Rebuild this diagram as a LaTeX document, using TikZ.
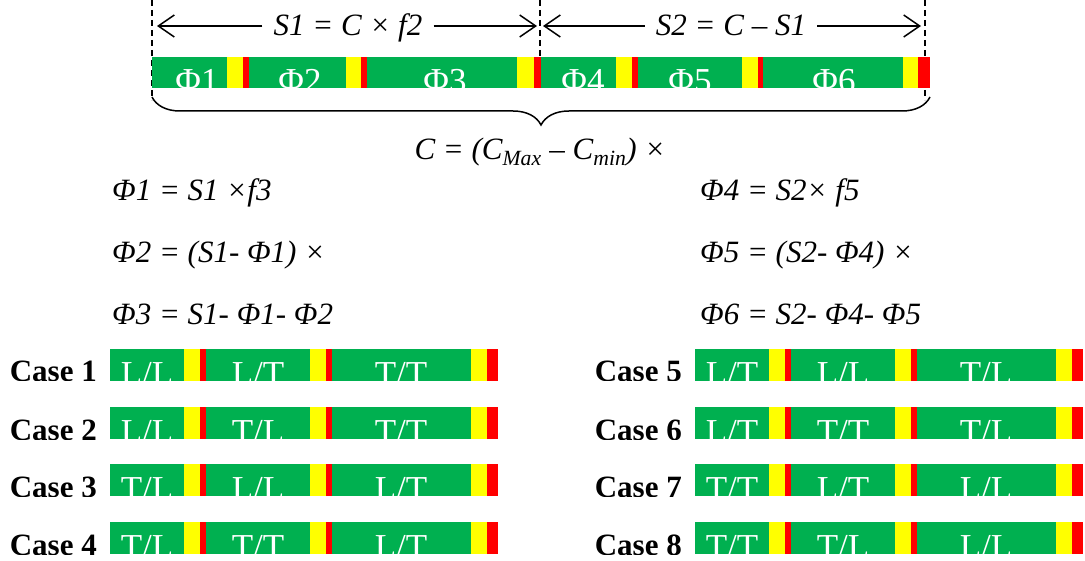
\documentclass[tikz,border=0pt]{standalone}
\usepackage{fontspec}
\setmainfont{Liberation Serif}
\usetikzlibrary{arrows.meta,decorations.pathreplacing}

\definecolor{phgreen}{HTML}{00B050}
\definecolor{phyellow}{HTML}{FFFF00}
\definecolor{phred}{HTML}{FF0000}

\tikzset{
  eqn/.style={anchor=base west, inner sep=0pt, font=\fontsize{31}{35}\selectfont\itshape},
  phlabel/.style={anchor=base, inner sep=0pt, text=white, font=\fontsize{35}{38}\selectfont},
  caselabel/.style={anchor=base east, inner sep=0pt, font=\fontsize{31}{35}\selectfont\bfseries},
  span/.style={line width=1.5pt, -{Straight Barb[length=16pt,width=22pt,line width=1.5pt]}},
  guide/.style={line width=1.2pt, dash pattern=on 6pt off 4pt},
  cbrace/.style={decorate, decoration={brace, amplitude=28pt}, line width=1.5pt}
}

% one signal cycle of a case row: green / yellow / red per phase
\newcommand{\casebar}[2]{%
  \foreach \a/\b/\c/\d in {110/184/200/206, 206/310/326/332, 332/471/487/498}{
    \fill[phgreen]  (\a+#1,#2) rectangle (\b+#1,#2+32);
    \fill[phyellow] (\b+#1,#2) rectangle (\c+#1,#2+32);
    \fill[phred]    (\c+#1,#2) rectangle (\d+#1,#2+32);
  }}

\begin{document}
\begin{tikzpicture}[x=1pt, y=-1pt]
  \useasboundingbox (0,0) rectangle (1085,561);

  % guide lines of the two sub-cycles
  \draw[guide] (152,0) -- (152,100);
  \draw[guide] (540,0) -- (540,57);
  \draw[guide] (925,0) -- (925,100);

  % full cycle bar
  \foreach \a/\b/\c/\d in {152/227/243/249, 249/346/361/367, 367/517/534/541,
                           541/616/632/638, 638/742/758/763, 763/903/918/930}{
    \fill[phgreen]  (\a,57) rectangle (\b,88);
    \fill[phyellow] (\b,57) rectangle (\c,88);
    \fill[phred]    (\c,57) rectangle (\d,88);
  }
  \foreach \n/\xc in {1/197, 2/300, 3/445, 4/583, 5/690, 6/834}
    \node[phlabel] (ph\n) at (\xc,93) {Φ\n};

  % sub-cycle lengths
  \node[eqn, anchor=base, inner xsep=11pt] (s1) at (348,36) {S1 = C × f2};
  \node[eqn, anchor=base, inner xsep=11pt] (s2) at (731,36) {S2 = C – S1};
  \coordinate (s1l) at (157,26);
  \coordinate (s1r) at (537,26);
  \coordinate (s2l) at (543,26);
  \coordinate (s2r) at (921,26);
  \draw[span] (s1.west |- s1l) -- (s1l);
  \draw[span] (s1.east |- s1r) -- (s1r);
  \draw[span] (s2.west |- s2l) -- (s2l);
  \draw[span] (s2.east |- s2r) -- (s2r);

  % cycle length
  \draw[cbrace] (930,97) -- (152,97);
  \node[eqn, anchor=base] (cyc) at (540,160)
    {C = (C\textsubscript{Max} – C\textsubscript{min}) ×};

  % phase lengths
  \node[eqn] (phi1) at (112,201) {Φ1 = S1 ×f3};
  \node[eqn] (phi2) at (112,263) {Φ2 = (S1- Φ1) ×};
  \node[eqn] (phi3) at (112,325) {Φ3 = S1- Φ1- Φ2};
  \node[eqn] (phi4) at (700,201) {Φ4 = S2× f5};
  \node[eqn] (phi5) at (700,263) {Φ5 = (S2- Φ4) ×};
  \node[eqn] (phi6) at (700,325) {Φ6 = S2- Φ4- Φ5};

  % the eight cases
  \foreach \n/\top/\dx/\pa/\pb/\pc in {
      1/349/0/{L/L}/{L/T}/{T/T}, 2/407/0/{L/L}/{T/L}/{T/T},
      3/464/0/{T/L}/{L/L}/{L/T}, 4/522/0/{T/L}/{T/T}/{L/T},
      5/349/585/{L/T}/{L/L}/{T/L}, 6/407/585/{L/T}/{T/T}/{T/L},
      7/464/585/{T/T}/{L/T}/{L/L}, 8/522/585/{T/T}/{T/L}/{L/L}}{
    \casebar{\dx}{\top}
    \begin{scope}
      \clip (0,\top-40) rectangle (1085,\top+32);
      \node[caselabel] (case\n) at (97+\dx,\top+33) {Case \n};
    \end{scope}
    \node[phlabel] (case\n a) at (147+\dx,\top+36) {\pa};
    \node[phlabel] (case\n b) at (258+\dx,\top+36) {\pb};
    \node[phlabel] (case\n c) at (401+\dx,\top+36) {\pc};
  }
\end{tikzpicture}
\end{document}
